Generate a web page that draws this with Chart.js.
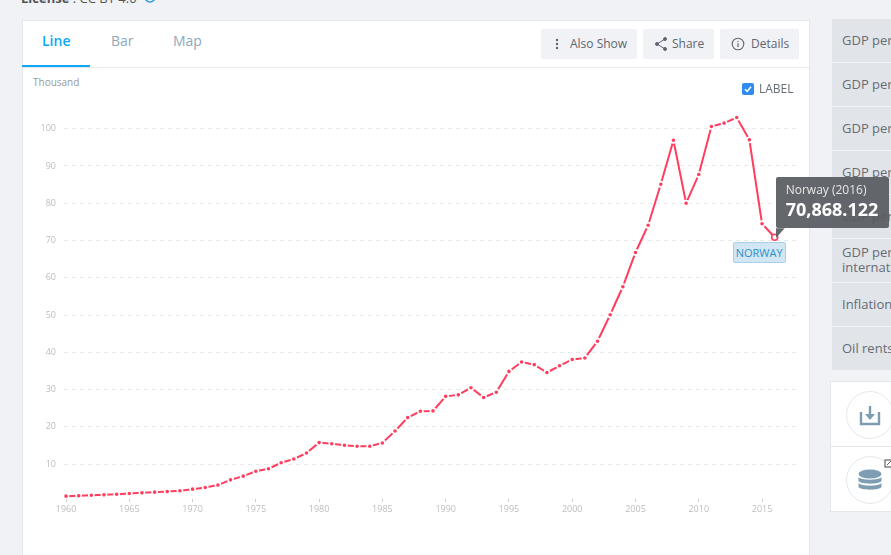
<!DOCTYPE html>
<html>
<head>
<meta charset="utf-8">
<script src="https://cdn.jsdelivr.net/npm/chart.js@4"></script>
<style>
html,body{margin:0;padding:0;width:891px;height:555px;overflow:hidden;background:#f0f2f6;font-family:"Open Sans",sans-serif;color:#5f6670}
div{box-sizing:border-box}
.abs{position:absolute;white-space:nowrap}
#card{left:22px;top:20px;width:788px;height:560px;background:#fff;border:1px solid #e4e7ec}
#chartBox{position:absolute;left:22px;top:68px;width:787px;height:487px}
.tab{top:31px;font-size:14px;line-height:20px;color:#8fa9bb}
.btn{top:29px;height:30px;background:#f0f2f6;border-radius:2px;font-size:12px;line-height:29px;color:#5f6670}
.btn svg{position:absolute;top:7px}
.btn span{position:absolute;top:0}
.side{left:832px;width:70px;background:#e1e4e9;font-size:13px;color:#666d75;padding:14px 0 0 10px;line-height:15px}
#tip{width:113px;height:51px;background:rgba(88,91,97,.93);border-radius:2px;color:#fff}
#tail{width:9px;height:10px;background:rgba(88,91,97,.93);clip-path:polygon(0 0,100% 0,0 100%)}
#tag{width:53px;height:21px;background:#d2e6f3;border:1px solid #a3d0ea;border-radius:2px;color:#2e8fc9;font-size:11px;line-height:19px;text-align:center}
</style>
</head>
<body>
<div class="abs" style="left:21px;top:-10px;font-size:13px;line-height:16px;color:#555"><b>License</b> : CC BY 4.0</div>
<svg class="abs" style="left:144px;top:-9px" width="14" height="14"><circle cx="6" cy="6" r="5" fill="none" stroke="#2e9be6" stroke-width="1.6"/></svg>

<div class="abs" id="card"></div>
<div class="abs" style="left:23px;top:67px;width:786px;height:1px;background:#e6e9ed"></div>
<div class="abs" style="left:22px;top:65px;width:68px;height:2px;background:#0ea8f5"></div>
<div class="abs tab" style="left:42px;color:#0ea8f5;font-weight:600">Line</div>
<div class="abs tab" style="left:111px">Bar</div>
<div class="abs tab" style="left:173px">Map</div>

<div class="abs btn" style="left:541px;width:96px">
  <svg style="left:12px" width="8" height="16"><g fill="#5f6670"><circle cx="4" cy="4" r="1.2"/><circle cx="4" cy="8" r="1.2"/><circle cx="4" cy="12" r="1.2"/></g></svg>
  <span style="left:29px">Also Show</span>
</div>
<div class="abs btn" style="left:643px;width:71px">
  <svg style="left:11px" width="14" height="16"><g fill="#5f6670" stroke="#5f6670"><circle cx="11" cy="3" r="1.5"/><circle cx="3" cy="8" r="1.5"/><circle cx="11" cy="13" r="1.5"/><path d="M11 3L3 8L11 13" fill="none"/></g></svg>
  <span style="left:29px">Share</span>
</div>
<div class="abs btn" style="left:720px;width:79px">
  <svg style="left:11px" width="14" height="16"><circle cx="7" cy="8" r="5.8" fill="none" stroke="#5f6670" stroke-width="1.1"/><path d="M7 7.2V11M7 5V6" stroke="#5f6670" stroke-width="1.2"/></svg>
  <span style="left:31px">Details</span>
</div>

<div class="abs" style="left:33px;top:75px;font-size:10px;line-height:14px;color:#999">Thousand</div>

<div id="chartBox"><canvas id="mycanvas"></canvas></div>

<svg class="abs" style="left:742px;top:83px" width="12" height="12"><rect width="12" height="12" rx="2" fill="#2f8cf0"/><path d="M3 6.2L5.2 8.4L9 3.8" fill="none" stroke="#fff" stroke-width="1.5"/></svg>
<div class="abs" style="left:759px;top:80px;font-size:12px;line-height:17px;color:#666d75">LABEL</div>

<div class="abs side" style="top:19px;height:43px">GDP per capita</div>
<div class="abs side" style="top:63px;height:43px">GDP per capita</div>
<div class="abs side" style="top:107px;height:43px">GDP per capita</div>
<div class="abs side" style="top:151px;height:43px">GDP per capita</div>
<div class="abs side" style="top:195px;height:43px">GDP per capita</div>
<div class="abs side" style="top:239px;height:43px;padding-top:6px">GDP per capita<br>international</div>
<div class="abs side" style="top:283px;height:43px">Inflation, GDP</div>
<div class="abs side" style="top:327px;height:43px">Oil rents</div>

<div class="abs" style="left:830px;top:381px;width:80px;height:131px;background:#fff;border:1px solid #e4e7ec"></div>
<div class="abs" style="left:831px;top:446px;width:60px;height:1px;background:#e4e7ec"></div>
<svg class="abs" style="left:831px;top:382px" width="60" height="129">
  <circle cx="39" cy="33" r="23.5" fill="#fff" stroke="#e3e9ee"/>
  <circle cx="39" cy="98" r="23.5" fill="#fff" stroke="#e3e9ee"/>
  <path d="M30 30V42H48V30" fill="none" stroke="#7d9db2" stroke-width="2.4"/>
  <path d="M39 24V33" stroke="#7d9db2" stroke-width="2.4"/>
  <path d="M34 32H44L39 38Z" fill="#7d9db2"/>
  <g fill="#7d9db2">
    <ellipse cx="39" cy="92" rx="11.5" ry="4.5"/>
    <path d="M27.5 95c2 3.5 21 3.5 23 0v4c-2 3.5-21 3.5-23 0z"/>
    <path d="M27.5 101c2 3.5 21 3.5 23 0v4c-2 3.5-21 3.5-23 0z"/>
  </g>
  <rect x="54" y="78" width="7" height="7" fill="#fff" stroke="#666" stroke-width="1.2"/>
  <path d="M56 83L60 79" stroke="#666"/>
</svg>

<div class="abs" id="tag"></div>
<div class="abs" id="tail"></div>
<div class="abs" id="tip">
  <div class="abs" id="tipTitle" style="left:10px;top:4px;font-size:12px;line-height:17px;color:#e6e7e9"></div>
  <div class="abs" id="tipValue" style="left:10px;top:20px;font-size:18px;line-height:25px;font-weight:700"></div>
</div>

<script>
var years = [1960,1961,1962,1963,1964,1965,1966,1967,1968,1969,
             1970,1971,1972,1973,1974,1975,1976,1977,1978,1979,
             1980,1981,1982,1983,1984,1985,1986,1987,1988,1989,
             1990,1991,1992,1993,1994,1995,1996,1997,1998,1999,
             2000,2001,2002,2003,2004,2005,2006,2007,2008,2009,
             2010,2011,2012,2013,2014,2015,2016];
var gdpThousand = [1.44,1.56,1.67,1.78,1.94,2.15,2.32,2.51,2.65,2.87,
                   3.31,3.74,4.4,5.8,6.8,8.1,8.8,10.4,11.4,13.0,
                   15.8,15.5,15.1,14.8,14.8,15.7,18.9,22.5,24.2,24.3,
                   28.2,28.6,30.5,27.9,29.3,34.9,37.4,36.7,34.6,36.4,
                   38.1,38.5,43.0,50.1,57.6,66.8,74.1,85.1,96.9,80.0,
                   87.7,100.6,101.5,103.0,97.0,74.5,70.868122];
var yearTicks = [1960,1965,1970,1975,1980,1985,1990,1995,2000,2005,2010,2015];
var valueTicks = [10,20,30,40,50,60,70,80,90,100];
var seriesName = "Norway";

var lineColor = "#ff3d5f";
var lastIndex = years.length - 1;

var points = [];
for (var i = 0; i < years.length; i++) {
	points.push({x: years[i], y: gdpThousand[i]});
}

// place tooltip and country tag next to the last point
var placeOverlays = {
	id: "placeOverlays",
	afterDraw: function(chart) {
		var box = chart.canvas.parentNode;
		var p = chart.getDatasetMeta(0).data[lastIndex];
		var px = box.offsetLeft + p.x;
		var py = box.offsetTop + p.y;
		var tip = document.getElementById("tip");
		tip.style.left = (px + 1) + "px";
		tip.style.top = (py - 60) + "px";
		var tail = document.getElementById("tail");
		tail.style.left = (px + 1) + "px";
		tail.style.top = (py - 9) + "px";
		var tag = document.getElementById("tag");
		tag.style.left = (px - 42) + "px";
		tag.style.top = (py + 5) + "px";
	}
};

document.getElementById("tipTitle").textContent = seriesName + " (" + years[lastIndex] + ")";
document.getElementById("tipValue").textContent = (gdpThousand[lastIndex] * 1000).toLocaleString("en-US", {minimumFractionDigits: 3, maximumFractionDigits: 3});
document.getElementById("tag").textContent = seriesName.toUpperCase();

var ctx = document.getElementById("mycanvas");

new Chart(ctx, {
	type: "line",
	data: {
		datasets: [{
			label: seriesName,
			data: points,
			fill: false,
			tension: 0,
			borderColor: lineColor,
			borderWidth: 2,
			pointRadius: function(c) { return c.dataIndex === lastIndex ? 3 : 2.6; },
			pointBorderWidth: function(c) { return 1.6; },
			pointBackgroundColor: function(c) { return c.dataIndex === lastIndex ? "#fff" : lineColor; },
			pointBorderColor: function(c) { return c.dataIndex === lastIndex ? lineColor : "#fff"; }
		}]
	},
	plugins: [placeOverlays],
	options: {
		responsive: true,
		maintainAspectRatio: false,
		animation: false,
		layout: {padding: {top: 23.4, right: 9, left: 0, bottom: 0}},
		plugins: {legend: {display: false}, tooltip: {enabled: false}},
		scales: {
			x: {
				type: "linear",
				min: 1959.84,
				max: 2018,
				afterBuildTicks: function(axis) {
					axis.ticks = yearTicks.map(function(v) { return {value: v}; });
				},
				afterFit: function(axis) { axis.height = 56; },
				border: {display: false},
				grid: {drawOnChartArea: false, drawTicks: true, tickLength: 3, color: "#cfcfcf"},
				ticks: {
					autoSkip: false,
					maxRotation: 0,
					padding: 2,
					color: "#bdbdbd",
					font: {family: "Open Sans", size: 9},
					callback: function(v) { return String(v); }
				}
			},
			y: {
				min: 0.67,
				max: 110,
				afterBuildTicks: function(axis) {
					axis.ticks = valueTicks.map(function(v) { return {value: v}; });
				},
				afterFit: function(axis) { axis.width = 42; },
				border: {display: false, dash: [4, 4]},
				grid: {drawTicks: false, color: "#e8e8e8", lineWidth: 1},
				ticks: {
					padding: 8,
					color: "#bdbdbd",
					font: {family: "Open Sans", size: 9}
				}
			}
		}
	}
});
</script>
</body>
</html>
